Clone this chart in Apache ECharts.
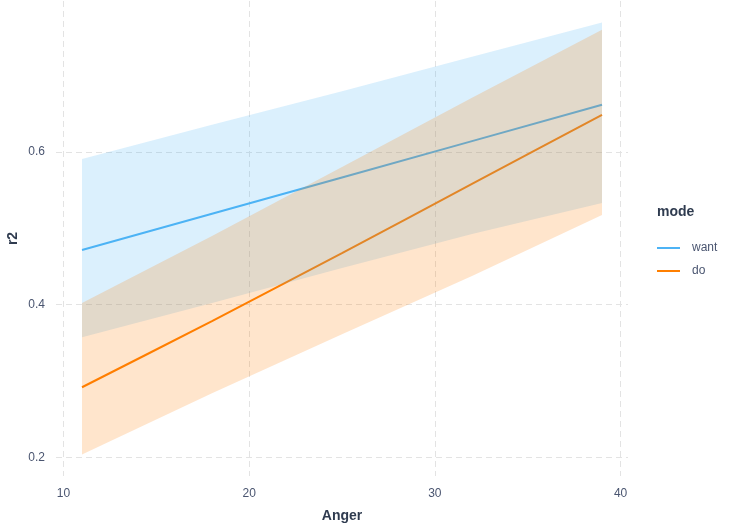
<!DOCTYPE html>
<html>
<head>
    <meta charset="UTF-8">
    <title>r2 vs Anger</title>
    <script src="https://cdn.jsdelivr.net/npm/echarts@6/dist/echarts.min.js"></script>
    <style>
        html, body { margin: 0; padding: 0; background: #fff; }
        #chart { width: 738px; height: 532px; }
    </style>
</head>
<body>
<div id="chart"></div>
<script type="text/javascript">
    // 数据
    var anger = [11, 18, 25, 32, 39];
    var wantFit   = [0.4715, 0.5190, 0.5665, 0.6140, 0.6616];
    var wantUpper = [0.5908, 0.6354, 0.6793, 0.7246, 0.7692];
    var wantLower = [0.3574, 0.4020, 0.4479, 0.4925, 0.5331];
    var doFit     = [0.2918, 0.3784, 0.4675, 0.5580, 0.6485];
    var doUpper   = [0.4020, 0.4898, 0.5803, 0.6708, 0.7600];
    var doLower   = [0.2039, 0.2839, 0.3613, 0.4374, 0.5174];
    var xTicks = [10, 20, 30, 40];
    var yTicks = [0.2, 0.4, 0.6];

    var blue = '#4db3f5';
    var orange = '#ff7f00';
    var textColor = '#4a5570';
    var titleColor = '#2f3b4f';
    var gridLine = { show: true, lineStyle: { color: '#e3e3e3', type: [6, 4], width: 1 } };

    function pairs(xs, ys) {
        var out = [];
        for (var i = 0; i < xs.length; i++) out.push([xs[i], ys[i]]);
        return out;
    }

    // 置信带，用库的坐标换算
    function band(upper, lower, color) {
        return {
            type: 'custom',
            z: 3,
            silent: true,
            data: [[anger[0], lower[0]]],
            renderItem: function (params, api) {
                var pts = [];
                for (var i = 0; i < anger.length; i++) pts.push(api.coord([anger[i], upper[i]]));
                for (var j = anger.length - 1; j >= 0; j--) pts.push(api.coord([anger[j], lower[j]]));
                return {
                    type: 'polygon',
                    shape: { points: pts },
                    style: { fill: color, opacity: 0.2 }
                };
            }
        };
    }

    var myChart = echarts.init(document.getElementById('chart'));

    var option = {
        backgroundColor: '#ffffff',
        animation: false,
        textStyle: { fontFamily: 'Liberation Sans, Arial, sans-serif' },
        grid: { left: 56, right: 110, top: 1, bottom: 56, outerBoundsMode: 'none', containLabel: false },
        legend: {
            data: ['want', 'do'],
            orient: 'vertical',
            left: 652,
            top: 237,
            itemWidth: 23,
            itemHeight: 2,
            itemGap: 11,
            icon: 'rect',
            textStyle: { color: textColor, fontSize: 12, padding: [0, 0, 0, 7] }
        },
        graphic: [{
            type: 'text',
            left: 657,
            top: 205,
            style: { text: 'mode', fontSize: 14, fontWeight: 'bold', fill: titleColor, fontFamily: 'Liberation Sans, Arial, sans-serif' }
        }],
        xAxis: {
            type: 'value',
            min: 9.6,
            max: 40.4,
            name: 'Anger',
            nameLocation: 'middle',
            nameGap: 33,
            nameMoveOverlap: false,
            nameTextStyle: { color: titleColor, fontSize: 14, fontWeight: 'bold' },
            axisLine: { show: false },
            axisTick: { show: false, customValues: xTicks },
            axisLabel: { color: textColor, fontSize: 12, margin: 12, customValues: xTicks },
            splitLine: gridLine
        },
        yAxis: {
            type: 'value',
            min: 0.1756,
            max: 0.7975,
            name: 'r2',
            nameLocation: 'middle',
            nameGap: 36,
            nameMoveOverlap: false,
            nameTextStyle: { color: titleColor, fontSize: 14, fontWeight: 'bold' },
            axisLine: { show: false },
            axisTick: { show: false, customValues: yTicks },
            axisLabel: { color: textColor, fontSize: 12, margin: 11, customValues: yTicks },
            splitLine: gridLine
        },
        series: [
            {
                name: 'want',
                type: 'line',
                showSymbol: false,
                color: blue,
                lineStyle: { width: 2, color: blue },
                z: 2,
                data: pairs(anger, wantFit)
            },
            {
                name: 'do',
                type: 'line',
                showSymbol: false,
                smooth: 0.2,
                color: orange,
                lineStyle: { width: 2, color: orange },
                z: 2,
                data: pairs(anger, doFit)
            },
            band(wantUpper, wantLower, blue),
            band(doUpper, doLower, orange)
        ]
    };
    myChart.setOption(option);
</script>
</body>
</html>
